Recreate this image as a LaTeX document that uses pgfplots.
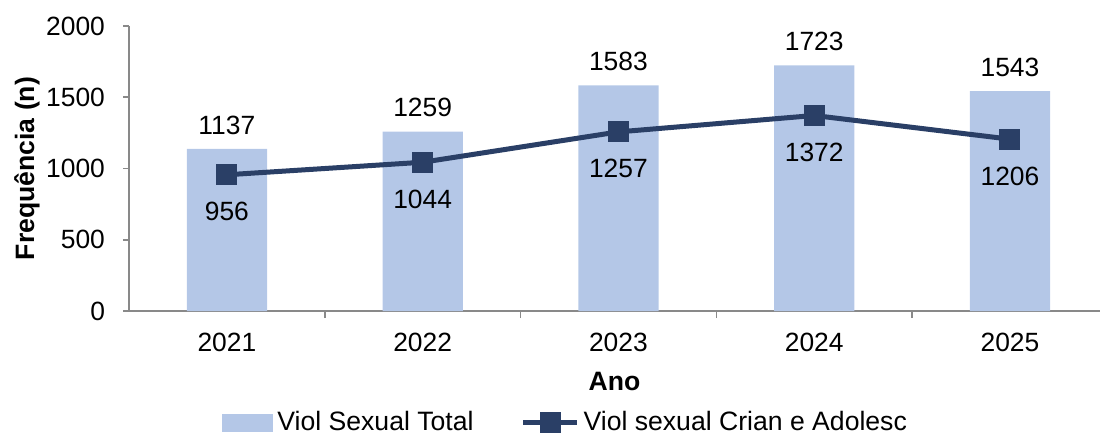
\documentclass[border=0pt]{standalone}
\usepackage{fontspec}
\setmainfont{Liberation Sans}
\usepackage{pgfplots}
\pgfplotsset{compat=1.18}
\definecolor{barc}{HTML}{B4C7E7}
\definecolor{linec}{HTML}{2A3F66}
\definecolor{axc}{HTML}{898989}
\pgfplotsset{
  barlegend/.style={legend image code/.code={\fill[barc] (0pt,-4.5pt) rectangle (25.5pt,4.5pt);}},
  linelegend/.style={legend image code/.code={\draw[##1, mark repeat=2, mark phase=2] plot coordinates {(0pt,0pt) (13.5pt,0pt) (27pt,0pt)};}},
}
\begin{document}
\begin{tikzpicture}
\useasboundingbox (0,0) rectangle (550.5pt,218pt);
\begin{axis}[
  at={(64.5pt,62.5pt)}, anchor=south west,
  scale only axis, width=485.5pt, height=142.5pt,
  xmin=-0.5, xmax=4.46, ymin=0, ymax=2000,
  axis x line*=bottom, axis y line*=left,
  axis line style={axc, line width=0.8pt, -},
  tick align=outside,
  xtick={0,...,4}, xticklabels={2021,2022,2023,2024,2025},
  major x tick style={draw=none},
  minor xtick={0.5,1.5,2.5,3.5},
  minor tick length=3.5pt,
  major tick length=3pt,
  tick style={axc, line width=0.8pt},
  ytick={0,500,...,2000},
  /pgf/number format/.cd, set thousands separator={}, assume math mode=true, /pgfplots/.cd,
  ticklabel style={font=\fontsize{13.2}{15}\selectfont, text=black},
  yticklabel style={anchor=east, xshift=-5.5pt},
  xticklabel style={anchor=north, yshift=-4.7pt},
  xlabel={\textbf{Ano}}, ylabel={\textbf{Frequência (n)}},
  label style={font=\fontsize{13.3}{15}\selectfont},
  xlabel style={at={(axis description cs:0.5,-0.2456)}, anchor=center},
  ylabel style={at={(axis description cs:-0.105,0.5)}, anchor=center},
  legend columns=2,
  legend style={draw=none, fill=none, at={(axis description cs:0.0958,-0.392)}, anchor=west,
    font=\fontsize{13.3}{15}\selectfont, inner sep=0pt,
    /tikz/every even column/.append style={column sep=21.5pt}},
  clip=false,
]
\addplot[ybar, bar width=0.41, bar shift=0pt, fill=barc, draw=none, barlegend,
  nodes near coords, every node near coord/.append style={font=\fontsize{13.2}{15}\selectfont, anchor=south, yshift=3.8pt}]
  coordinates {(0,1137) (1,1259) (2,1583) (3,1723) (4,1543)};
\addlegendentry{Viol Sexual Total}
\addplot[linec, line width=2.5pt, mark=square*, mark size=5pt, mark options={solid, fill=linec, line width=0pt}, linelegend,
  nodes near coords, every node near coord/.append style={font=\fontsize{13.2}{15}\selectfont, anchor=north, yshift=-10.5pt, text=black}]
  coordinates {(0,956) (1,1044) (2,1257) (3,1372) (4,1206)};
\addlegendentry{Viol sexual Crian e Adolesc}
\end{axis}
\end{tikzpicture}
\end{document}
